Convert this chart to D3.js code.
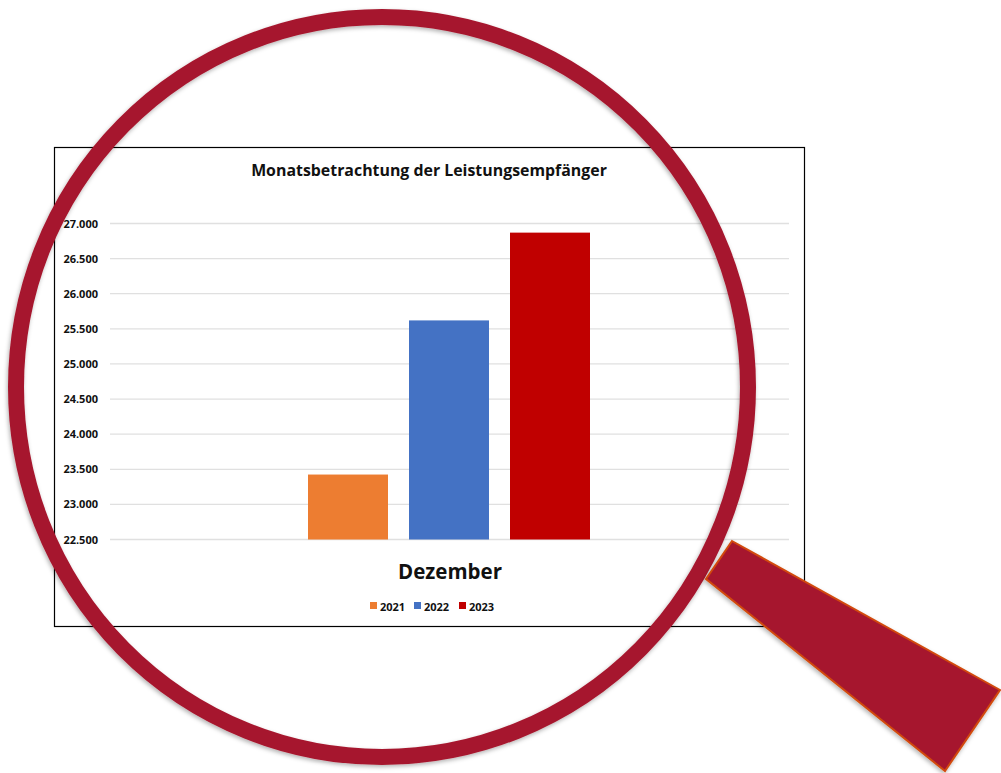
<!DOCTYPE html>
<html>
<head>
<meta charset="utf-8">
<script src="https://cdn.jsdelivr.net/npm/d3@7"></script>
<style>
  html, body { margin: 0; padding: 0; background: #fff; }
  svg { display: block; }
  text { font-family: "Open Sans", "Noto Sans", sans-serif; font-weight: 700; fill: #111; }
</style>
</head>
<body>
<div id="chart"></div>
<script>
// Chart data
const title = "Monatsbetrachtung der Leistungsempfänger";
const category = "Dezember";
const years = ["2021", "2022", "2023"];
const values = [23425, 25620, 26870];
const colors = ["#ED7D31", "#4472C4", "#C00000"];
const yTicks = [22500, 23000, 23500, 24000, 24500, 25000, 25500, 26000, 26500, 27000];
const tickLabels = ["22.500", "23.000", "23.500", "24.000", "24.500", "25.000", "25.500", "26.000", "26.500", "27.000"];

const width = 1001;
const height = 773;

const svg = d3.select("#chart").append("svg")
  .attr("width", width)
  .attr("height", height);

// Drop shadow for the magnifier
const filter = svg.append("defs").append("filter")
  .attr("id", "shadow")
  .attr("x", "-10%").attr("y", "-10%")
  .attr("width", "120%").attr("height", "120%");
filter.append("feDropShadow")
  .attr("dx", -1).attr("dy", 2)
  .attr("stdDeviation", 2)
  .attr("flood-color", "#000")
  .attr("flood-opacity", 0.3);

// Chart frame
svg.append("rect")
  .attr("x", 54.5).attr("y", 147.5)
  .attr("width", 750).attr("height", 479)
  .attr("fill", "#fff")
  .attr("stroke", "#000")
  .attr("stroke-width", 1.2);

// Scales
const x = d3.scaleBand().domain([category]).range([109, 789]);
const xInner = d3.scaleBand()
  .domain(years)
  .range([x(category) + x.bandwidth() / 2 - 151.5, x(category) + x.bandwidth() / 2 + 151.5])
  .paddingInner(21 / 101)
  .paddingOuter(10.5 / 101);
const y = d3.scaleLinear().domain([22500, 27000]).range([539.5, 223.5]);

// Gridlines and y labels
const yAxis = svg.append("g")
  .attr("transform", "translate(110,0)")
  .call(d3.axisLeft(y)
    .tickValues(yTicks)
    .tickSize(0)
    .tickPadding(12)
    .tickFormat((d, i) => tickLabels[i]));
yAxis.select(".domain").remove();
yAxis.selectAll("text").style("font-size", "11px");
yAxis.selectAll(".grid")
  .data(yTicks)
  .enter()
  .append("line")
  .attr("x1", 0)
  .attr("x2", 679)
  .attr("y1", d => y(d))
  .attr("y2", d => y(d))
  .attr("stroke", "#E0E0E0")
  .attr("stroke-width", 1.3);

// Bars
svg.selectAll(".bar")
  .data(years)
  .enter()
  .append("rect")
  .attr("x", d => xInner(d))
  .attr("y", (d, i) => y(values[i]))
  .attr("width", xInner.bandwidth())
  .attr("height", (d, i) => y(22500) - y(values[i]))
  .attr("fill", (d, i) => colors[i]);

// Title and category label
svg.append("text")
  .attr("x", 429).attr("y", 176)
  .attr("text-anchor", "middle")
  .style("font-size", "15.9px")
  .text(title);

svg.append("text")
  .attr("x", 450).attr("y", 579)
  .attr("text-anchor", "middle")
  .style("font-size", "20.5px")
  .text(category);

// Legend
const legendX = [370, 414, 459];
const legend = svg.selectAll(".legend")
  .data(years)
  .enter()
  .append("g")
  .attr("transform", (d, i) => `translate(${legendX[i]},602)`);
legend.append("rect")
  .attr("width", 7).attr("height", 7)
  .attr("fill", (d, i) => colors[i]);
legend.append("text")
  .attr("x", 10).attr("y", 8.5)
  .style("font-size", "11px")
  .text(d => d);

// Magnifier
svg.append("ellipse")
  .attr("cx", 382).attr("cy", 387)
  .attr("rx", 366).attr("ry", 370)
  .attr("fill", "none")
  .attr("stroke", "#A6192E")
  .attr("stroke-width", 16)
  .attr("filter", "url(#shadow)");

svg.append("polygon")
  .attr("points", "732,541 1000,690 945,771 706,579")
  .attr("fill", "#A6192E")
  .attr("stroke", "#D24A0E")
  .attr("stroke-width", 2)
  .attr("filter", "url(#shadow)");
</script>
</body>
</html>
